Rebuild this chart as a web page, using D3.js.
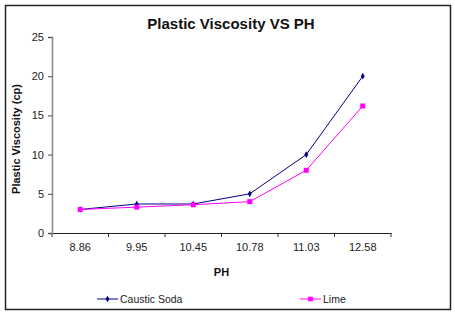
<!DOCTYPE html>
<html>
  <head>
    <meta charset="utf-8">
    <script src="https://cdn.jsdelivr.net/npm/d3@7"></script>
    <style>
        body { margin:0; background:#fff; }
        svg { display:block; font-family: "Liberation Sans", Arial, sans-serif; }
    </style>
  </head>
  <body>
    <script>
      var phLabels = ["8.86", "9.95", "10.45", "10.78", "11.03", "12.58"];
      var causticSoda = [3, 3.7, 3.7, 5, 10, 20];
      var lime = [3, 3.3, 3.6, 4, 8, 16.2];
      var yTicks = [0, 5, 10, 15, 20, 25];

      var width = 455, height = 312;
      var margin = {left: 52, right: 64, top: 37, bottom: 79};

      var svg = d3.select("body").append("svg")
          .attr("width", width)
          .attr("height", height);

      // frame
      svg.append("rect")
          .attr("x", 5.5).attr("y", 5.5)
          .attr("width", 445).attr("height", 304)
          .attr("fill", "#fff")
          .attr("stroke", "#222")
          .attr("stroke-width", 1.5);

      var x = d3.scaleBand()
          .domain(phLabels)
          .range([margin.left, width - margin.right]);

      var y = d3.scaleLinear()
          .domain([0, 25])
          .range([height - margin.bottom, margin.top]);

      // axes
      var xAxis = svg.append("g")
          .attr("transform", "translate(0," + y(0) + ")")
          .call(d3.axisBottom(x).tickSize(0).tickPadding(10));
      xAxis.select(".domain").attr("stroke", "#222").attr("stroke-width", 1.2);
      xAxis.selectAll("text").attr("font-size", 11).attr("fill", "#222");

      // x tick marks at band edges
      var edges = phLabels.map(function(d) { return x(d); }).concat([x.range()[1]]);
      svg.append("g").selectAll("line")
          .data(edges)
          .enter().append("line")
          .attr("x1", function(d) { return d; })
          .attr("x2", function(d) { return d; })
          .attr("y1", y(0))
          .attr("y2", y(0) + 4)
          .attr("stroke", "#333");

      var yAxis = svg.append("g")
          .attr("transform", "translate(" + margin.left + ",0)")
          .call(d3.axisLeft(y).tickValues(yTicks).tickSize(4).tickPadding(4));
      yAxis.select(".domain").attr("stroke", "#888").attr("stroke-width", 1.5);
      yAxis.selectAll("line").attr("stroke", "#444");
      yAxis.selectAll("text").attr("font-size", 11).attr("fill", "#222");

      // title and axis labels
      svg.append("text")
          .attr("x", 231).attr("y", 29)
          .attr("text-anchor", "middle")
          .attr("font-size", 15)
          .attr("font-weight", "bold")
          .attr("fill", "#111")
          .text("Plastic Viscosity VS PH");

      svg.append("text")
          .attr("x", (x.range()[0] + x.range()[1]) / 2)
          .attr("y", 276)
          .attr("text-anchor", "middle")
          .attr("font-size", 11)
          .attr("font-weight", "bold")
          .attr("fill", "#111")
          .text("PH");

      svg.append("text")
          .attr("transform", "translate(20," + ((y(0) + y(25)) / 2 + 4) + ") rotate(-90)")
          .attr("text-anchor", "middle")
          .attr("font-size", 11)
          .attr("font-weight", "bold")
          .attr("fill", "#111")
          .text("Plastic Viscosity (cp)");

      var cx = function(d, i) { return x(phLabels[i]) + x.bandwidth() / 2; };
      var line = d3.line()
          .x(function(d, i) { return cx(d, i); })
          .y(function(d) { return y(d); });

      // Caustic Soda
      svg.append("path")
          .datum(causticSoda)
          .attr("d", line)
          .attr("fill", "none")
          .attr("stroke", "#000080")
          .attr("stroke-width", 1);
      svg.append("g").selectAll("path")
          .data(causticSoda)
          .enter().append("path")
          .attr("transform", function(d, i) { return "translate(" + cx(d, i) + "," + y(d) + ")"; })
          .attr("d", d3.symbol().type(d3.symbolDiamond).size(13))
          .attr("fill", "#000080");

      // Lime
      svg.append("path")
          .datum(lime)
          .attr("d", line)
          .attr("fill", "none")
          .attr("stroke", "#ff00ff")
          .attr("stroke-width", 1);
      svg.append("g").selectAll("rect")
          .data(lime)
          .enter().append("rect")
          .attr("x", function(d, i) { return cx(d, i) - 2.5; })
          .attr("y", function(d) { return y(d) - 2.5; })
          .attr("width", 5).attr("height", 5)
          .attr("fill", "#ff00ff");

      // legend
      var legend = [
        {name: "Caustic Soda", color: "#000080", x: 97, shape: "diamond"},
        {name: "Lime", color: "#ff00ff", x: 300, shape: "square"}
      ];
      var lg = svg.append("g").selectAll("g")
          .data(legend)
          .enter().append("g")
          .attr("transform", function(d) { return "translate(" + d.x + ",299)"; });
      lg.append("line")
          .attr("x1", 0).attr("x2", 21)
          .attr("stroke", function(d) { return d.color; });
      lg.append("path")
          .attr("transform", "translate(10.5,0)")
          .attr("d", function(d) {
            return d3.symbol().type(d.shape == "diamond" ? d3.symbolDiamond : d3.symbolSquare).size(d.shape == "diamond" ? 13 : 22)();
          })
          .attr("fill", function(d) { return d.color; });
      lg.append("text")
          .attr("x", 23)
          .attr("y", 3.5)
          .attr("font-size", 10.5)
          .attr("fill", "#222")
          .text(function(d) { return d.name; });
    </script>
  </body>
</html>
